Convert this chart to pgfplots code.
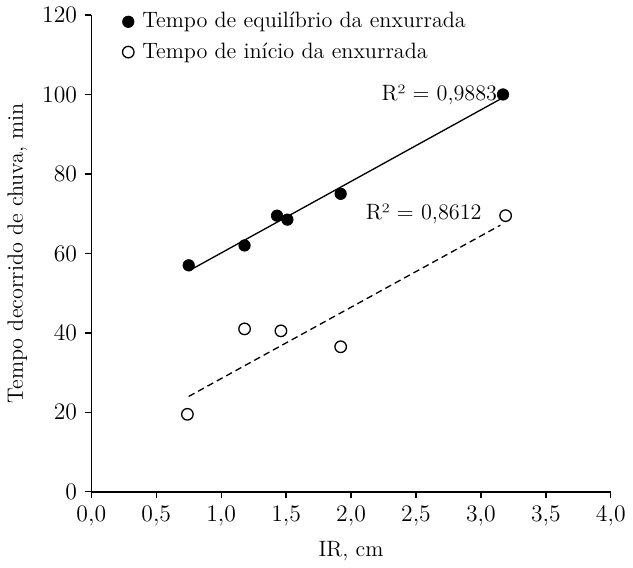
\documentclass[border=0pt]{standalone}
\usepackage{pgfplots}
\pgfplotsset{compat=1.18}
\begin{document}
\begin{tikzpicture}
\fontsize{13.5}{16}\selectfont
\begin{axis}[
  scale only axis, width=316pt, height=290pt,
  xmin=0, xmax=4, ymin=0, ymax=120,
  axis lines=left, axis line style={-, line width=0.9pt},
  xtick={0,0.5,...,4}, ytick={0,20,...,120},
  tick align=outside, major tick length=4pt,
  tick style={line width=0.8pt, black},
  x tick label style={/pgf/number format/.cd, fixed, fixed zerofill, precision=1, use comma},
  xlabel={IR, cm}, ylabel={Tempo decorrido de chuva, min},
  legend style={at={(0.05,1.02)}, anchor=north west, draw=none, fill=none, row sep=3pt,
    font=\fontsize{13.5}{16}\selectfont},
  legend cell align=left,
  clip=false,
]
% Tempo de equilibrio
\addplot[only marks, mark=*, mark size=3.5pt, black] coordinates {
(0.75,57) (1.18,62) (1.43,69.5) (1.51,68.5) (1.92,75) (3.17,100)
};
\addlegendentry{\hspace{3pt}Tempo de equilíbrio da enxurrada}
% Tempo de inicio
\addplot[only marks, mark=o, mark size=3.5pt, mark options={fill=white, line width=0.8pt}, black] coordinates {
(0.74,19.5) (1.18,41) (1.46,40.5) (1.92,36.5) (3.19,69.5)
};
\addlegendentry{\hspace{3pt}Tempo de início da enxurrada}
% trend lines
\addplot[black, line width=0.8pt, forget plot] coordinates {(0.75,55.6) (3.17,99.2)};
\addplot[black, dash pattern=on 4pt off 2.5pt, line width=0.8pt, forget plot] coordinates {(0.75,24.0) (3.15,67.1)};
\node[anchor=east, inner sep=1pt] at (axis cs:3.14,100) {R² = 0,9883};
\node[anchor=east, inner sep=1pt] at (axis cs:3.02,70) {R² = 0,8612};
\end{axis}
\end{tikzpicture}
\end{document}
